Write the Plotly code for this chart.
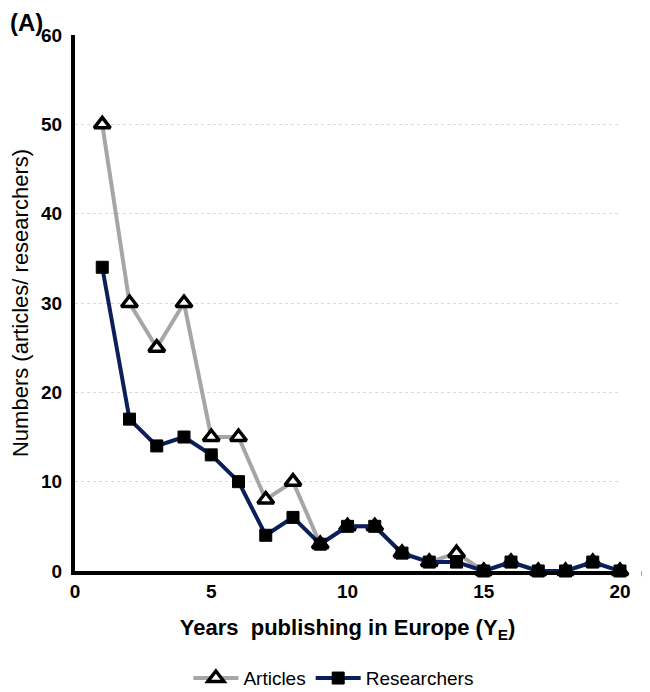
import plotly.graph_objects as go

years = list(range(1, 21))
articles = [50, 30, 25, 30, 15, 15, 8, 10, 3, 5, 5, 2, 1, 2, 0, 1, 0, 0, 1, 0]
researchers = [34, 17, 14, 15, 13, 10, 4, 6, 3, 5, 5, 2, 1, 1, 0, 1, 0, 0, 1, 0]

fig = go.Figure()
fig.add_trace(go.Scatter(
    x=years, y=articles, name="Articles", mode="lines+markers",
    line=dict(color="#a6a6a6", width=4),
    marker=dict(symbol="triangle-up", size=14, color="white",
                line=dict(color="black", width=3.5)),
    cliponaxis=False,
))
fig.add_trace(go.Scatter(
    x=years, y=researchers, name="Researchers", mode="lines+markers",
    line=dict(color="#0b1f5a", width=4),
    marker=dict(symbol="square", size=12, color="black",
                line=dict(color="black", width=1)),
    cliponaxis=False,
))

fig.add_annotation(x=years[-1], y=researchers[-1], text=str(researchers[-1]),
                   xref="x", yref="y", showarrow=False, xanchor="left", xshift=19, yshift=-2,
                   font=dict(size=13, color="black", family="Liberation Sans"))
fig.add_annotation(x=-67 / 545, y=1 + 13 / 536, xref="paper", yref="paper", text="<b>(A)</b>",
                   showarrow=False, xanchor="left", yanchor="middle",
                   font=dict(size=24, color="black", family="Liberation Sans"))

tick_font = dict(size=19, family="Liberation Sans", weight="bold", color="black")

fig.update_layout(
    width=650, height=692,
    margin=dict(l=67, r=38, t=27, b=129, autoexpand=False),
    paper_bgcolor="white", plot_bgcolor="white",
    font=dict(family="Liberation Sans", color="black"),
    showlegend=True,
    legend=dict(orientation="h", x=0.475, xanchor="center", y=-0.2, yanchor="middle",
                font=dict(size=19), itemwidth=45),
    xaxis=dict(range=[0, 20], tickvals=[0, 5, 10, 15, 20], showgrid=False,
               showline=True, linecolor="black", linewidth=4, zeroline=False,
               ticks="", tickfont=tick_font, automargin=False,
               title=dict(text="<b>Years  publishing in Europe (Y<sub>E</sub>)</b>",
                          font=dict(size=22), standoff=20)),
    yaxis=dict(range=[0, 60], tickvals=[0, 10, 20, 30, 40, 50, 60],
               showgrid=True, gridcolor="#d9d9d9", griddash="dot", gridwidth=1,
               showline=True, linecolor="black", linewidth=4, zeroline=False,
               ticks="", tickfont=tick_font, automargin=False, ticklabelstandoff=5,
               title=dict(text="Numbers (articles/ researchers)", font=dict(size=22), standoff=14)),
)

fig.write_html("out.html")
